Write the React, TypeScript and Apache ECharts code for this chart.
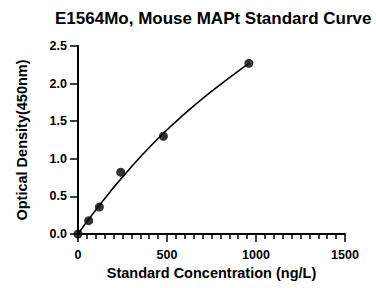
import React, { useEffect, useRef } from "react";
import * as echarts from "echarts";

const title = "E1564Mo, Mouse MAPt Standard Curve";
const xName = "Standard Concentration (ng/L)";
const yName = "Optical Density(450nm)";

// standard points
const concentrations = [0, 60, 120, 240, 480, 960];
const odValues = [0.0, 0.177, 0.358, 0.822, 1.3, 2.27];

// fitted curve
const curveX = [0, 60, 120, 180, 240, 360, 480, 600, 720, 840, 960];
const curveY = [0, 0.195, 0.38, 0.56, 0.73, 1.05, 1.34, 1.6, 1.84, 2.06, 2.27];

const FONT = "Arial, 'Liberation Sans', Helvetica, sans-serif";

export default function App() {
  const ref = useRef<HTMLDivElement>(null);
  useEffect(() => {
    if (!ref.current) return;
    const chart = echarts.init(ref.current, null, { renderer: "svg" });
    chart.setOption({
      animation: false,
      backgroundColor: "#ffffff",
      title: {
        text: title,
        left: 50,
        top: 5,
        textStyle: { fontFamily: FONT, fontSize: 17, fontWeight: "bold", color: "#000" },
      },
      grid: { left: 78, right: 31, top: 46, bottom: 54, containLabel: false },
      xAxis: {
        type: "value",
        min: 0,
        max: 1500,
        interval: 500,
        name: xName,
        nameLocation: "middle",
        nameGap: 27,
        nameTextStyle: { fontFamily: FONT, fontSize: 14.5, fontWeight: "bold", color: "#000", verticalAlign: "top" },
        axisLine: { show: true, onZero: false, lineStyle: { color: "#000", width: 2 } },
        axisTick: { show: true, length: 8, lineStyle: { color: "#000", width: 1.5 } },
        minorTick: { show: true, splitNumber: 10, length: 5, lineStyle: { color: "#000", width: 1.5 } },
        axisLabel: {
          margin: 14,
          fontFamily: FONT,
          fontSize: 12.5,
          fontWeight: "bold",
          color: "#000",
          formatter: (v: number) => String(v),
        },
        splitLine: { show: false },
      },
      yAxis: {
        type: "value",
        min: 0,
        max: 2.5,
        interval: 0.5,
        name: yName,
        nameLocation: "middle",
        nameGap: 49,
        nameTextStyle: { fontFamily: FONT, fontSize: 14.5, fontWeight: "bold", color: "#000" },
        axisLine: { show: true, onZero: false, lineStyle: { color: "#000", width: 2 } },
        axisTick: { show: true, length: 8, lineStyle: { color: "#000", width: 1.5 } },
        axisLabel: {
          margin: 11,
          fontFamily: FONT,
          fontSize: 12.5,
          fontWeight: "bold",
          color: "#000",
          formatter: (v: number) => v.toFixed(1),
        },
        splitLine: { show: false },
      },
      series: [
        {
          type: "line",
          data: curveX.map((x, i) => [x, curveY[i]]),
          smooth: true,
          showSymbol: false,
          symbol: "none",
          lineStyle: { color: "#000", width: 1.6 },
          z: 2,
        },
        {
          type: "scatter",
          data: concentrations.map((x, i) => [x, odValues[i]]),
          symbol: "circle",
          symbolSize: 9,
          itemStyle: { color: "#000" },
          z: 3,
        },
      ],
    });
    return () => chart.dispose();
  }, []);
  return (
    <div
      ref={ref}
      style={{ position: "fixed", left: 0, top: 0, width: 376, height: 288, background: "#fff" }}
    />
  );
}
